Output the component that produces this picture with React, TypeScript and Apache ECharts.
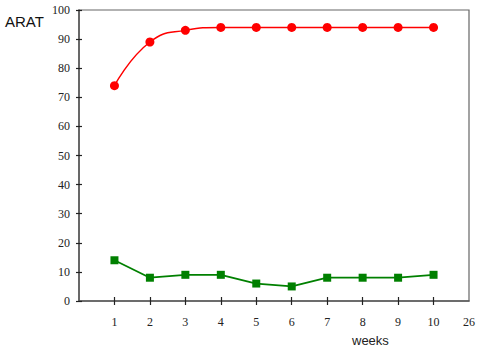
import React, { useEffect, useRef } from "react";
import * as echarts from "echarts";

const categories = ["", "1", "2", "3", "4", "5", "6", "7", "8", "9", "10", "26"];
const weeks = ["1", "2", "3", "4", "5", "6", "7", "8", "9", "10"];
const redValues = [74, 89, 93, 94, 94, 94, 94, 94, 94, 94];
const greenValues = [14, 8, 9, 9, 6, 5, 8, 8, 8, 9];
const yMin = 0;
const yMax = 100;
const yInterval = 10;

export default function App() {
  const ref = useRef<HTMLDivElement>(null);
  useEffect(() => {
    if (!ref.current) return;
    const chart = echarts.init(ref.current, null, { renderer: "svg" });
    const axisColor = "#555";
    const serif = "'Liberation Serif', 'DejaVu Serif', serif";
    const tickShow = (i: number) => i >= 1 && i <= 10;
    chart.setOption({
      animation: false,
      textStyle: { fontFamily: serif },
      grid: {
        left: 79,
        right: 9,
        top: 10,
        bottom: 47,
        show: true,
        borderColor: "#666",
        borderWidth: 1.2,
        backgroundColor: "transparent",
      },
      xAxis: [
        {
          type: "category",
          data: categories,
          boundaryGap: false,
          position: "bottom",
          axisLine: { lineStyle: { color: axisColor, width: 1.5 } },
          axisTick: { show: true, interval: tickShow, length: 4, inside: false, lineStyle: { color: "#222", width: 1.2 } },
          axisLabel: { show: true, interval: 0, margin: 15, fontFamily: serif, fontSize: 12, color: "#222" },
          splitLine: { show: false },
        },
        {
          type: "category",
          data: categories,
          boundaryGap: false,
          position: "bottom",
          offset: 0,
          axisLine: { show: false },
          axisTick: { show: true, interval: tickShow, length: 4, inside: true, lineStyle: { color: "#222", width: 1.2 } },
          axisLabel: { show: false },
          splitLine: { show: false },
        },
      ],
      yAxis: [
        {
          type: "value",
          min: yMin,
          max: yMax,
          interval: yInterval,
          position: "left",
          axisLine: { show: true, lineStyle: { color: axisColor, width: 1.5 } },
          axisTick: { show: true, length: 3, inside: false, lineStyle: { color: "#222", width: 1.2 } },
          axisLabel: { margin: 9, fontFamily: serif, fontSize: 12, color: "#222" },
          splitLine: { show: false },
        },
        {
          type: "value",
          min: yMin,
          max: yMax,
          interval: yInterval,
          position: "left",
          offset: 0,
          axisLine: { show: false },
          axisTick: { show: true, length: 3, inside: true, lineStyle: { color: "#222", width: 1.2 } },
          axisLabel: { show: false },
          splitLine: { show: false },
        },
      ],
      graphic: [
        {
          type: "text",
          left: 5,
          top: 14,
          style: { text: "ARAT", fontFamily: "Liberation Sans", fontSize: 15, fill: "#111" },
        },
        {
          type: "text",
          left: 352,
          top: 334,
          style: { text: "weeks", fontFamily: "Liberation Sans", fontSize: 13, fill: "#222" },
        },
      ],
      series: [
        {
          type: "line",
          xAxisIndex: 0,
          yAxisIndex: 0,
          data: weeks.map((w, i) => [w, redValues[i]]),
          smooth: 0.5,
          symbol: "circle",
          symbolSize: 9,
          itemStyle: { color: "#ff0000" },
          lineStyle: { color: "#ff0000", width: 1.5 },
        },
        {
          type: "line",
          xAxisIndex: 0,
          yAxisIndex: 0,
          data: weeks.map((w, i) => [w, greenValues[i]]),
          symbol: "rect",
          symbolSize: 8,
          itemStyle: { color: "#008000" },
          lineStyle: { color: "#008000", width: 1.8 },
        },
      ],
    });
    return () => chart.dispose();
  }, []);
  return <div ref={ref} style={{ width: 478, height: 348, position: "absolute", left: 0, top: 0 }} />;
}
